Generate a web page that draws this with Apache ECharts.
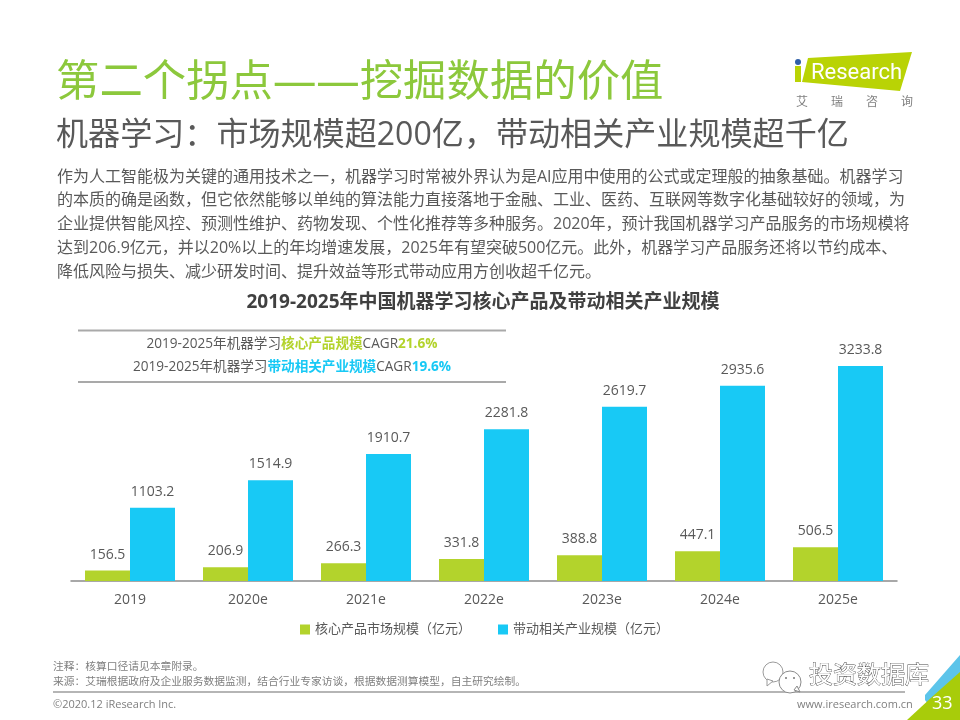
<!DOCTYPE html>
<html>
<head>
<meta charset="utf-8">
<style>html,body{margin:0;padding:0;background:#fff}#main{width:960px;height:720px}</style>
<script src="https://cdn.jsdelivr.net/npm/echarts@6/dist/echarts.min.js"></script>
</head>
<body>
<div id="main"></div>
<script>
var categories = ['2019', '2020e', '2021e', '2022e', '2023e', '2024e', '2025e'];
var coreValues = [156.5, 206.9, 266.3, 331.8, 388.8, 447.1, 506.5];
var relatedValues = [1103.2, 1514.9, 1910.7, 2281.8, 2619.7, 2935.6, 3233.8];
var bodyLines = [
  '作为人工智能极为关键的通用技术之一，机器学习时常被外界认为是AI应用中使用的公式或定理般的抽象基础。机器学习',
  '的本质的确是函数，但它依然能够以单纯的算法能力直接落地于金融、工业、医药、互联网等数字化基础较好的领域，为',
  '企业提供智能风控、预测性维护、药物发现、个性化推荐等多种服务。2020年，预计我国机器学习产品服务的市场规模将',
  '达到206.9亿元，并以20%以上的年均增速发展，2025年有望突破500亿元。此外，机器学习产品服务还将以节约成本、',
  '降低风险与损失、减少研发时间、提升效益等形式带动应用方创收超千亿元。'
];

var FONT = '"Open Sans","Noto Sans CJK SC",sans-serif';
var GREY = '#595959';
var LIME = '#b3d32c';
var SKY = '#18c9f5';

function label(x, y, text, size, color, extra) {
  var style = { x: x, y: y, text: text, fontFamily: FONT, fontSize: size, fill: color, textVerticalAlign: 'middle', textAlign: 'left' };
  for (var k in extra) style[k] = extra[k];
  return { type: 'text', style: style, silent: true };
}
function hline(x1, x2, y, color, w) {
  return { type: 'line', shape: { x1: x1, y1: y, x2: x2, y2: y }, style: { stroke: color, lineWidth: w }, silent: true };
}

var graphics = [
  label(56, 84, '第二个拐点——挖掘数据的价值', 43.4, '#8cc83c'),
  label(56, 136, '机器学习：市场规模超200亿，带动相关产业规模超千亿', 32.1, GREY),
  label(483, 303, '2019-2025年中国机器学习核心产品及带动相关产业规模', 19, '#404040', { textAlign: 'center', fontWeight: 'bold' }),
  hline(78, 506, 330.5, '#a9a9a9', 2),
  hline(78, 506, 382, '#a9a9a9', 2),
  { type: 'text', silent: true, style: {
      x: 292, y: 344, textAlign: 'center', textVerticalAlign: 'middle', fontFamily: FONT, fontSize: 13.6, fill: GREY,
      text: '2019-2025年机器学习{g|核心产品规模}CAGR{g|21.6%}',
      rich: { g: { fill: LIME, fontWeight: 'bold', fontSize: 13.6, fontFamily: FONT } }
  } },
  { type: 'text', silent: true, style: {
      x: 292, y: 367, textAlign: 'center', textVerticalAlign: 'middle', fontFamily: FONT, fontSize: 13.6, fill: GREY,
      text: '2019-2025年机器学习{b|带动相关产业规模}CAGR{b|19.6%}',
      rich: { b: { fill: SKY, fontWeight: 'bold', fontSize: 13.6, fontFamily: FONT } }
  } },
  // footer
  label(53, 667, '注释：核算口径请见本章附录。', 10.75, '#7f7f7f'),
  label(53, 682, '来源：艾瑞根据政府及企业服务数据监测，结合行业专家访谈，根据数据测算模型，自主研究绘制。', 10.75, '#7f7f7f'),
  hline(53, 905, 692, '#b5b5b5', 2),
  label(53, 705, '©2020.12 iResearch Inc.', 11, '#7f7f7f'),
  label(797, 705, 'www.iresearch.com.cn', 11, '#7f7f7f'),
  // logo
  { type: 'polygon', silent: true, shape: { points: [[808, 58], [912, 52], [900, 91], [802, 82]] }, style: { fill: '#b9d305' } },
  { type: 'rect', silent: true, shape: { x: 795, y: 66, width: 6, height: 16 }, style: { fill: '#b9d305' } },
  { type: 'circle', silent: true, shape: { cx: 798, cy: 62, r: 3 }, style: { fill: '#2f5fa8' } },
  label(811, 73, 'Research', 22, '#fff', { fontFamily: 'Roboto,sans-serif' }),
  label(796, 103, '艾', 12, '#808080'), label(831, 103, '瑞', 12, '#808080'),
  label(866, 103, '咨', 12, '#808080'), label(901, 103, '询', 12, '#808080'),
  // corner
  { type: 'polygon', silent: true, shape: { points: [[925, 695], [960, 655], [960, 690], [940, 720], [925, 700]] }, style: { fill: '#5cc4ea' } },
  { type: 'polygon', silent: true, shape: { points: [[907, 720], [933, 696], [960, 672], [960, 720]] }, style: { fill: '#a8cc0a' } },
  label(932, 704, '33', 18, '#fff'),
  // watermark
  { type: 'circle', silent: true, shape: { cx: 773, cy: 672, r: 10 }, style: { fill: '#fff', stroke: '#9a9a9a', lineWidth: 1 } },
  { type: 'polygon', silent: true, shape: { points: [[767, 679], [767, 686], [773, 681]] }, style: { fill: '#fff', stroke: '#9a9a9a', lineWidth: 1 } },
  { type: 'circle', silent: true, shape: { cx: 790, cy: 682, r: 11 }, style: { fill: '#fff', stroke: '#8a8a8a', lineWidth: 1 } },
  { type: 'polygon', silent: true, shape: { points: [[794, 690], [800, 692], [797, 686]] }, style: { fill: '#fff', stroke: '#8a8a8a', lineWidth: 1 } },
  { type: 'circle', silent: true, shape: { cx: 786, cy: 678, r: 1 }, style: { fill: '#777' } },
  { type: 'circle', silent: true, shape: { cx: 794, cy: 678, r: 1 }, style: { fill: '#777' } },
  label(809, 676, '投资数据库', 24, '#fff', { stroke: '#444', lineWidth: 0.8 })
];
bodyLines.forEach(function (line, i) {
  graphics.push(label(57, 177 + i * 23.8, line, 16, GREY));
});

var chart = echarts.init(document.getElementById('main'), null, { renderer: 'canvas' });
chart.setOption({
  animation: false,
  textStyle: { fontFamily: FONT },
  legend: {
    top: 618, left: 295, icon: 'rect', itemWidth: 10, itemHeight: 10, itemGap: 27,
    textStyle: { color: GREY, fontSize: 13, fontFamily: FONT },
    data: ['核心产品市场规模（亿元）', '带动相关产业规模（亿元）']
  },
  grid: { left: 71, width: 826, top: 348.25, height: 232.75 },
  xAxis: {
    type: 'category', data: categories,
    axisLine: { lineStyle: { color: '#8c8c8c', width: 1.5 } },
    axisTick: { show: false },
    axisLabel: { color: GREY, fontSize: 14, margin: 12, fontFamily: FONT }
  },
  yAxis: { type: 'value', min: 0, max: 3500, show: false, splitLine: { show: false } },
  series: [
    { name: '核心产品市场规模（亿元）', type: 'bar', data: coreValues, barWidth: 45, barGap: 0,
      itemStyle: { color: LIME },
      label: { show: true, position: 'top', distance: 9, color: GREY, fontSize: 14, fontFamily: FONT } },
    { name: '带动相关产业规模（亿元）', type: 'bar', data: relatedValues, barWidth: 45,
      itemStyle: { color: SKY },
      label: { show: true, position: 'top', distance: 9, color: GREY, fontSize: 14, fontFamily: FONT } }
  ],
  graphic: { elements: graphics }
});
</script>
</body>
</html>
